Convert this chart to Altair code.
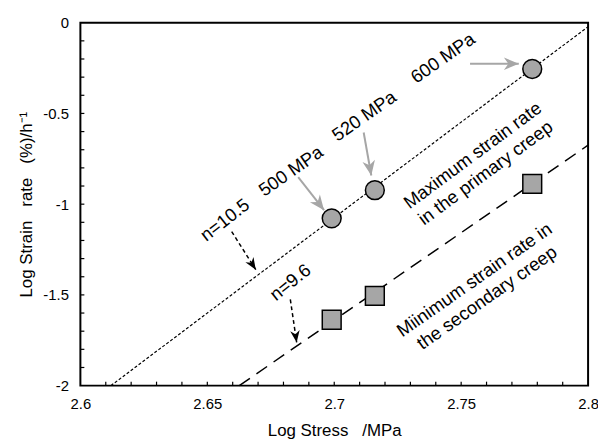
import math
import altair as alt
import pandas as pd

# ---------------- data ----------------
W, H = 512, 366
X_DOMAIN = [2.6, 2.8]
Y_DOMAIN = [-2.0, 0.0]

log_stress = [2.699, 2.716, 2.778]
max_rate = [-1.078, -0.923, -0.255]   # maximum strain rate, primary creep
min_rate = [-1.637, -1.505, -0.888]   # minimum strain rate, secondary creep

fit_max_x = [2.612, 2.8]
fit_max_y = [-2.0, -0.022]
fit_min_x = [2.6626, 2.8]
fit_min_y = [-2.0, -0.675]

x_major = [2.6, 2.65, 2.7, 2.75, 2.8]
y_major = [0, -0.5, -1, -1.5, -2]
x_minor = [2.61, 2.62, 2.63, 2.64, 2.65, 2.66, 2.67, 2.68, 2.69, 2.7,
           2.71, 2.72, 2.73, 2.74, 2.75, 2.76, 2.77, 2.78, 2.79]
y_minor = [-0.1, -0.2, -0.3, -0.4, -0.5, -0.6, -0.7, -0.8, -0.9, -1.0,
           -1.1, -1.2, -1.3, -1.4, -1.5, -1.6, -1.7, -1.8, -1.9]

gray_arrow_x1 = [2.6858, 2.7116, 2.7535]
gray_arrow_y1 = [-0.851, -0.605, -0.226]
gray_arrow_x2 = [2.6960, 2.7146, 2.7727]
gray_arrow_y2 = [-1.033, -0.842, -0.226]

dash_arrow_x1 = [2.6596, 2.6827]
dash_arrow_y1 = [-1.151, -1.525]
dash_arrow_x2 = [2.6691, 2.6852]
dash_arrow_y2 = [-1.361, -1.762]

label_text = ["n=10.5", "500 MPa", "520 MPa", "600 MPa",
              "Maximum strain rate\nin the primary creep",
              "Miinimum strain rate in\nthe secondary creep", "n=9.6"]
label_x = [2.6569, 2.6829, 2.7118, 2.7428, 2.7545, 2.7552, 2.6827]
label_y = [-1.087, -0.818, -0.514, -0.195, -0.731, -1.417, -1.430]
label_angle = [322, 325, 325, 325, 323.5, 325, 321]

FONT = "Liberation Sans"

# ---------------- frames ----------------
def head_angles(x1, y1, x2, y2):
    out = []
    for a, b, c, d in zip(x1, y1, x2, y2):
        dx = (c - a) / (X_DOMAIN[1] - X_DOMAIN[0]) * W
        dy = -(d - b) / (Y_DOMAIN[1] - Y_DOMAIN[0]) * H
        out.append(math.degrees(math.atan2(dx, -dy)) % 360)
    return out

pts = pd.DataFrame({"x": log_stress, "ymax": max_rate, "ymin": min_rate})
fit1 = pd.DataFrame({"x": fit_max_x, "y": fit_max_y})
fit2 = pd.DataFrame({"x": fit_min_x, "y": fit_min_y})
garr = pd.DataFrame({"x1": gray_arrow_x1, "y1": gray_arrow_y1, "x2": gray_arrow_x2,
                     "y2": gray_arrow_y2,
                     "ang": head_angles(gray_arrow_x1, gray_arrow_y1, gray_arrow_x2, gray_arrow_y2)})
darr = pd.DataFrame({"x1": dash_arrow_x1, "y1": dash_arrow_y1, "x2": dash_arrow_x2,
                     "y2": dash_arrow_y2,
                     "ang": head_angles(dash_arrow_x1, dash_arrow_y1, dash_arrow_x2, dash_arrow_y2)})
labels = pd.DataFrame({"x": label_x, "y": label_y, "t": label_text, "a": label_angle})
xm = pd.DataFrame({"v": x_minor})
ym = pd.DataFrame({"v": y_minor})

xs = alt.Scale(domain=X_DOMAIN, nice=False, zero=False)
ys = alt.Scale(domain=Y_DOMAIN, nice=False, zero=False)

x_axis = alt.Axis(values=x_major, labelExpr="'' + datum.value", title="Log Stress\u00a0\u00a0\u00a0/MPa",
                  titleY=45, titleBaseline="middle", labelPadding=11)
y_axis = alt.Axis(values=y_major, labelExpr="'' + datum.value",
                  title="Log Strain\u00a0\u00a0\u00a0rate\u00a0\u00a0\u00a0(%)/h\u207b\u00b9",
                  titleX=-54, titleBaseline="middle", labelPadding=12)

base_x = alt.X("x:Q", scale=xs, axis=x_axis)
base_y = alt.Y("y:Q", scale=ys, axis=y_axis)

line1 = alt.Chart(fit1).mark_line(color="black", strokeWidth=1.2, strokeDash=[3, 2]).encode(
    x=base_x, y=base_y)
line2 = alt.Chart(fit2).mark_line(color="black", strokeWidth=1.5, strokeDash=[13, 8]).encode(
    x="x:Q", y="y:Q")

xticks = alt.Chart(xm).mark_rule(color="black", strokeWidth=1.2).encode(
    x="v:Q", y=alt.value(H), y2=alt.value(H - 4))
yticks = alt.Chart(ym).mark_rule(color="black", strokeWidth=1.2).encode(
    y="v:Q", x=alt.value(0), x2=alt.value(4))

garr_line = alt.Chart(garr).mark_rule(color="#a6a6a6", strokeWidth=2).encode(
    x="x1:Q", y="y1:Q", x2="x2:Q", y2="y2:Q")
garr_head = alt.Chart(garr).mark_point(
    shape="M0,0 L0.85,2 L0,1.4 L-0.85,2 Z", filled=True, color="#a6a6a6", opacity=1, size=225
).encode(x="x2:Q", y="y2:Q", angle=alt.Angle("ang:Q", scale=None))

darr_line = alt.Chart(darr).mark_rule(color="black", strokeWidth=1.5, strokeDash=[4, 3]).encode(
    x="x1:Q", y="y1:Q", x2="x2:Q", y2="y2:Q")
darr_head = alt.Chart(darr).mark_point(
    shape="M0,0 L0.8,2 L0,1.4 L-0.8,2 Z", filled=True, color="black", opacity=1, size=144
).encode(x="x2:Q", y="y2:Q", angle=alt.Angle("ang:Q", scale=None))

circles = alt.Chart(pts).mark_point(shape="circle", filled=True, fill="#a6a6a6", stroke="black",
                                    strokeWidth=1.5, opacity=1, size=361).encode(x="x:Q", y="ymax:Q")
squares = alt.Chart(pts).mark_point(shape="square", filled=True, fill="#a6a6a6", stroke="black",
                                    strokeWidth=1.5, opacity=1, size=361).encode(x="x:Q", y="ymin:Q")

texts = alt.Chart(labels).mark_text(font=FONT, fontSize=18.5, color="black", align="center",
                                    baseline="middle", lineBreak="\n", lineHeight=22).encode(
    x="x:Q", y="y:Q", text="t:N", angle=alt.Angle("a:Q", scale=None))

chart = alt.layer(line1, line2, xticks, yticks, garr_line, garr_head, darr_line, darr_head,
                  circles, squares, texts).properties(
    width=W, height=H, autosize="none",
    padding={"left": 73, "top": 13, "right": 10, "bottom": 53},
).configure_view(stroke="black", strokeWidth=2).configure_axis(
    domain=False, grid=False, ticks=False, tickSize=0, labelFont=FONT, labelFontSize=15,
    labelColor="black", titleFont=FONT, titleFontSize=17, titleFontWeight="normal",
    titleColor="black", labelFlush=False,
)

chart.save("out.html", embed_options={"renderer": "svg", "actions": False})
